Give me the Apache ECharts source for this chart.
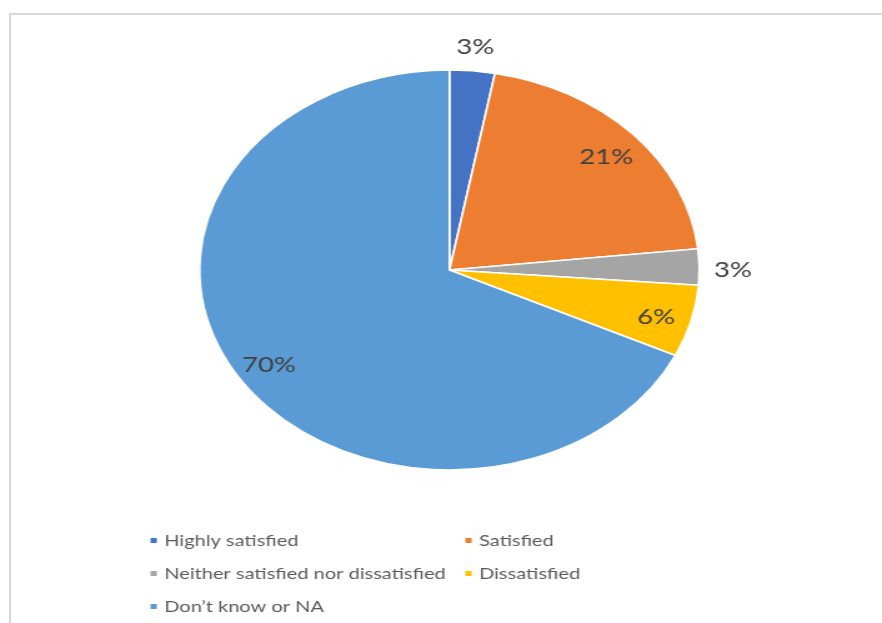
<!DOCTYPE html>
<html>
<head>
<meta charset="utf-8">
<script src="https://cdn.jsdelivr.net/npm/echarts@6/dist/echarts.min.js"></script>
<style>
  html, body { margin: 0; padding: 0; width: 882px; height: 623px; overflow: hidden; background: #ffffff; }
  #frame { position: absolute; left: 9px; top: 13px; width: 900px; height: 700px;
           border-top: 2px solid #d9d9d9; border-left: 2px solid #d9d9d9; }
  #chart { position: absolute; left: 0; top: 0; width: 706px; height: 623px;
           transform: scaleX(1.2493); transform-origin: 0 0; }
</style>
</head>
<body>
<div id="frame"></div>
<div id="chart"></div>
<script>
// Data
var categories = ['Highly satisfied', 'Satisfied', 'Neither satisfied nor dissatisfied', 'Dissatisfied', 'Don\u2019t know or NA'];
var values = [3, 21, 3, 6, 70];
var colors = ['#4472C4', '#ED7D31', '#A5A5A5', '#FFC000', '#5B9BD5'];
var outsideLabel = [true, false, true, false, false];
var legendCol1 = [categories[0], categories[2], categories[4]];
var legendCol2 = [categories[1], categories[3]];

var chart = echarts.init(document.getElementById('chart'), null, { renderer: 'canvas' });
var center = [359.8, 270];

var mainData = categories.map(function (c, i) {
  return { name: c, value: values[i], itemStyle: { color: colors[i] } };
});
function labelData(wantOutside) {
  return categories.map(function (c, i) {
    return { name: c, value: values[i], label: { show: outsideLabel[i] === wantOutside } };
  });
}
var labelStyle = {
  position: 'inside', formatter: '{c}%', color: '#404040',
  fontFamily: 'Lato', fontSize: 22, offset: [0, 3]
};
var legendCommon = {
  orient: 'vertical', itemWidth: 7, itemHeight: 7, itemGap: 14,
  icon: 'rect', selectedMode: false, padding: 0, height: 90,
  textStyle: { color: '#595959', fontFamily: 'Lato', fontSize: 16, lineHeight: 19 }
};

chart.setOption({
  animation: false,
  backgroundColor: 'transparent',
  legend: [
    Object.assign({ left: 118.5, top: 531, data: legendCol1 }, legendCommon),
    Object.assign({ left: 370.5, top: 531, data: legendCol2 }, legendCommon)
  ],
  series: [
    {
      type: 'pie', name: 'main', center: center, radius: [0, 200],
      startAngle: 90, clockwise: true,
      label: { show: false }, labelLine: { show: false },
      itemStyle: { borderColor: '#ffffff', borderWidth: 1.6 },
      emphasis: { disabled: true }, silent: true,
      data: mainData
    },
    {
      type: 'pie', name: 'insideLabels', center: center, radius: [136, 200],
      startAngle: 90, clockwise: true, silent: true,
      itemStyle: { color: 'rgba(0,0,0,0)', borderWidth: 0 },
      label: labelStyle, labelLine: { show: false },
      emphasis: { disabled: true },
      data: labelData(false)
    },
    {
      type: 'pie', name: 'outsideLabels', center: center, radius: [200, 248],
      startAngle: 90, clockwise: true, silent: true,
      itemStyle: { color: 'rgba(0,0,0,0)', borderWidth: 0 },
      label: labelStyle, labelLine: { show: false },
      emphasis: { disabled: true },
      data: labelData(true)
    }
  ]
});
</script>
</body>
</html>
